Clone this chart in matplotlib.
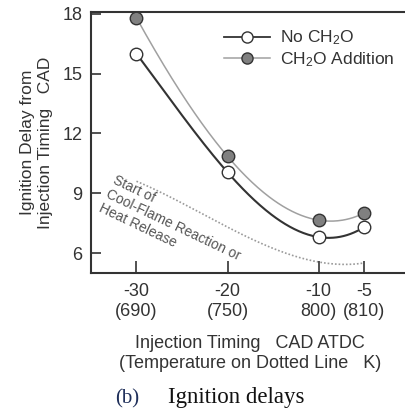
import numpy as np
import matplotlib
matplotlib.use("Agg")
from matplotlib import pyplot as plt

plt.rcParams['font.family'] = ['Liberation Sans', 'DejaVu Sans']
plt.rcParams['mathtext.default'] = 'regular'

# data
timing = [-30, -20, -10, -5]
no_ch2o = [16.0, 10.05, 6.8, 7.3]
ch2o_add = [17.8, 10.85, 7.65, 8.0]
cool_flame = [9.6, 7.3, 5.55, 5.5]
tick_labels = ['-30\n(690)', '-20\n(750)', '-10\n800)', '-5\n(810)']

fig = plt.figure(figsize=(4.06, 4.08), dpi=100)
ax = fig.add_axes([0.224, 0.331, 0.785, 0.640])

# smooth curves through the measured points
xs = np.linspace(-30, -5, 200)
fit_no = np.polyval(np.polyfit(timing, no_ch2o, 3), xs)
fit_add = np.polyval(np.polyfit(timing, ch2o_add, 3), xs)
fit_cf = np.polyval(np.polyfit(timing, cool_flame, 3), xs)

ax.plot(xs, fit_add, color='#a0a0a0', lw=1.1, zorder=2)
ax.plot(xs, fit_no, color='#333333', lw=1.5, zorder=2)
ax.plot(xs, fit_cf, color='#9a9a9a', lw=1.2, ls=(0, (1, 1.2)), zorder=1)

ax.plot(timing, ch2o_add, ls='none', marker='o', ms=9, mfc='#808080',
        mec='#333333', mew=1.0, zorder=3)
ax.plot(timing, no_ch2o, ls='none', marker='o', ms=9, mfc='white',
        mec='#333333', mew=1.0, zorder=3)

# legend handles
h1, = ax.plot([], [], color='#333333', lw=1.3, marker='o', ms=8,
              mfc='white', mec='#333333')
h2, = ax.plot([], [], color='#a0a0a0', lw=1.1, marker='o', ms=8,
              mfc='#808080', mec='#333333')
ax.legend([h1, h2], ['No CH$_2$O', 'CH$_2$O Addition'], loc='upper left',
          bbox_to_anchor=(0.37, 0.995), frameon=False, fontsize=12.5,
          handlelength=2.6, handletextpad=0.6, labelspacing=0.15,
          labelcolor='#333333')

ax.text(-32.2, 10.0, 'Start of\nCool-Flame Reaction or\nHeat Release',
        rotation=-25.5, rotation_mode='anchor', ha='left', va='top',
        fontsize=10, color='#555555', linespacing=1.15)

ax.set_xlim(-35, 0)
ax.set_ylim(5, 18.1)
ax.set_xticks(timing)
ax.set_xticklabels(tick_labels, linespacing=1.25)
ax.set_yticks([6, 9, 12, 15, 18])
ax.tick_params(direction='in', length=7, width=1.2, color='#333333',
               labelsize=13, labelcolor='#333333', pad=6)
ax.tick_params(axis='x', length=9, pad=7)
for s in ['left', 'bottom', 'top']:
    ax.spines[s].set_linewidth(1.5)
    ax.spines[s].set_color('#333333')
ax.spines['right'].set_visible(False)

ax.set_ylabel('Ignition Delay from\nInjection Timing   CAD', fontsize=12.5,
              color='#333333', linespacing=1.25, labelpad=7)
fig.text(0.616, 0.134, 'Injection Timing   CAD ATDC\n(Temperature on Dotted Line   K)',
         ha='center', va='center', fontsize=13, color='#333333', linespacing=1.25)

fig.text(0.283, 0.012, '(b)', fontsize=15, family='Liberation Serif', color='#1f2f5a')
fig.text(0.413, 0.012, 'Ignition delays', fontsize=16.5, family='Liberation Serif',
         color='#111111')

fig.savefig('out.png', dpi=100)
